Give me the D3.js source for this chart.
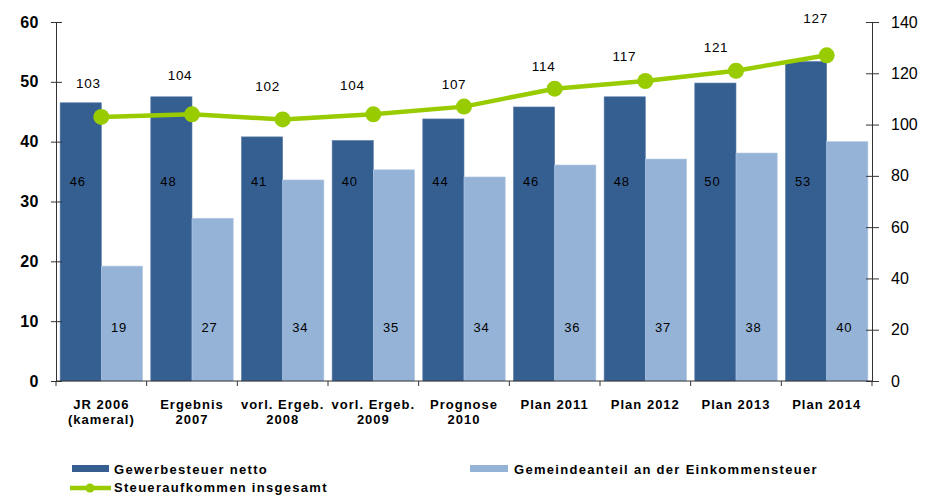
<!DOCTYPE html>
<html><head><meta charset="utf-8">
<script src="https://cdn.jsdelivr.net/npm/d3@7"></script>
<style>body{margin:0;background:#fff}svg{display:block;font-family:"Liberation Sans",Arial,sans-serif}</style>
</head><body><svg id="c" width="926" height="496"></svg>
<script>
const categories = [["JR 2006","(kameral)"],["Ergebnis","2007"],["vorl. Ergeb.","2008"],["vorl. Ergeb.","2009"],["Prognose","2010"],["Plan 2011"],["Plan 2012"],["Plan 2013"],["Plan 2014"]];
const gewerbe = [46.5, 47.5, 40.8, 40.2, 43.8, 45.8, 47.5, 49.8, 53.4];
const gewerbeLabels = [46, 48, 41, 40, 44, 46, 48, 50, 53];
const einkommen = [19.2, 27.2, 33.6, 35.3, 34.1, 36.1, 37.1, 38.1, 40.0];
const einkommenLabels = [19, 27, 34, 35, 34, 36, 37, 38, 40];
const gesamt = [103, 104, 102, 104, 107, 114, 117, 121, 127];
const leftTicks = [0, 10, 20, 30, 40, 50, 60];
const rightTicks = [0, 20, 40, 60, 80, 100, 120, 140];
const seriesNames = ["Gewerbesteuer netto", "Gemeindeanteil an der Einkommensteuer", "Steueraufkommen insgesamt"];

// layout: manual label offsets (px) of the line's data labels, as placed in the original
const lineLabelDx = [-13, -12, -15, -21, -10, -11, -21, -20, -11];
const lineLabelDy = [-34, -39, -33, -29, -23, -23, -25, -24, -37];

const cDark = "#365f91", cLight = "#95b3d7", cLine = "#99cc00";
const svg = d3.select("#c");
const L = 56, R = 872, T = 22, B = 381;
const idx = categories.map((d,i)=>i);
const x = d3.scaleBand().domain(idx).range([L, R]).paddingInner(0).paddingOuter(0);
const xi = d3.scaleBand().domain([0,1]).range([0, x.bandwidth()]).paddingOuter(0.1).paddingInner(0);
const yL = d3.scaleLinear().domain([0, 60]).range([B, T]);
const yR = d3.scaleLinear().domain([0, 140]).range([B, T]);

// bars
const g = svg.append("g");
g.selectAll(".d").data(gewerbe).join("rect")
  .attr("x",(d,i)=>x(i)+xi(0)).attr("width",xi.bandwidth())
  .attr("y",d=>yL(d)).attr("height",d=>B-yL(d)).attr("fill",cDark)
  .attr("stroke","#5b7fab").attr("stroke-width",0.6);
g.selectAll(".l").data(einkommen).join("rect")
  .attr("x",(d,i)=>x(i)+xi(1)).attr("width",xi.bandwidth())
  .attr("y",d=>yL(d)).attr("height",d=>B-yL(d)).attr("fill",cLight)
  .attr("stroke","#b3c8e3").attr("stroke-width",0.6);

// bar labels
const lblStyle = s => s.attr("text-anchor","middle").attr("font-size",13).attr("letter-spacing",0.8).attr("fill","#000");
g.selectAll(".dl").data(gewerbeLabels).join("text")
  .attr("x",(d,i)=>x(i)+xi(0)+xi.bandwidth()/2-3).attr("y",yL(33.5)+5)
  .call(lblStyle).text(d=>d);
g.selectAll(".ll").data(einkommenLabels).join("text")
  .attr("x",(d,i)=>x(i)+xi(1)+xi.bandwidth()/2-3).attr("y",yL(9.1)+5)
  .call(lblStyle).text(d=>d);

// axes
const axL = d3.axisLeft(yL).tickValues(leftTicks).tickSizeInner(5).tickSizeOuter(0).tickPadding(12);
const gl = svg.append("g").attr("transform",`translate(${L},0)`).call(axL);
gl.selectAll(".tick line").attr("x2",-5).attr("x1",6);
gl.selectAll("text").attr("font-size",16).attr("font-weight","bold").attr("font-family","Liberation Sans, Arial").attr("fill","#000").attr("letter-spacing",0.5);
const axR = d3.axisRight(yR).tickValues(rightTicks).tickSizeInner(7).tickSizeOuter(0).tickPadding(12);
const gr = svg.append("g").attr("transform",`translate(${R},0)`).call(axR);
gr.selectAll(".tick line").attr("x1",-6);
gr.selectAll("text").attr("font-size",16).attr("font-family","Liberation Sans, Arial").attr("fill","#000");
[gl,gr].forEach(a=>{a.selectAll("path,line").attr("stroke","#333");});

// bottom axis
svg.append("line").attr("x1",L).attr("x2",R).attr("y1",B).attr("y2",B).attr("stroke","#333");
svg.selectAll(".xt").data(d3.range(categories.length+1)).join("line")
  .attr("x1",i=>L+i*x.bandwidth()).attr("x2",i=>L+i*x.bandwidth()).attr("y1",B).attr("y2",B+5).attr("stroke","#333");
const xl = svg.selectAll(".xl").data(categories).join("text")
  .attr("text-anchor","middle").attr("font-size",13).attr("font-weight","bold").attr("letter-spacing",1).attr("fill","#000")
  .attr("transform",(d,i)=>`translate(${x(i)+x.bandwidth()/2},409)`);
xl.each(function(d){const t=d3.select(this);d.forEach((s,k)=>t.append("tspan").attr("x",0).attr("dy",k?15:0).text(s));});

// line
const line = d3.line().x((d,i)=>x(i)+x.bandwidth()/2).y(d=>yR(d));
svg.append("path").datum(gesamt).attr("d",line).attr("fill","none").attr("stroke",cLine).attr("stroke-width",4.5);
svg.selectAll(".pt").data(gesamt).join("circle")
  .attr("cx",(d,i)=>x(i)+x.bandwidth()/2).attr("cy",d=>yR(d)).attr("r",8).attr("fill",cLine);
svg.selectAll(".ptl").data(gesamt).join("text")
  .attr("x",(d,i)=>x(i)+x.bandwidth()/2+lineLabelDx[i]).attr("y",(d,i)=>yR(d)+lineLabelDy[i]+5)
  .attr("text-anchor","middle").attr("font-size",13.5).attr("letter-spacing",0.7).attr("fill","#000").text(d=>d);

// legend
const lg = svg.append("g").attr("font-size",13).attr("font-weight","bold").attr("letter-spacing",1.3);
lg.append("rect").attr("x",72).attr("y",465).attr("width",37).attr("height",7).attr("fill",cDark);
lg.append("text").attr("x",114).attr("y",474).text(seriesNames[0]);
lg.append("rect").attr("x",470).attr("y",465).attr("width",38).attr("height",7).attr("fill",cLight);
lg.append("text").attr("x",514).attr("y",474).text(seriesNames[1]);
lg.append("line").attr("x1",70).attr("x2",111).attr("y1",488).attr("y2",488).attr("stroke",cLine).attr("stroke-width",4.5);
lg.append("circle").attr("cx",90).attr("cy",488).attr("r",4.5).attr("fill",cLine);
lg.append("text").attr("x",114).attr("y",492).text(seriesNames[2]);
</script></body></html>
